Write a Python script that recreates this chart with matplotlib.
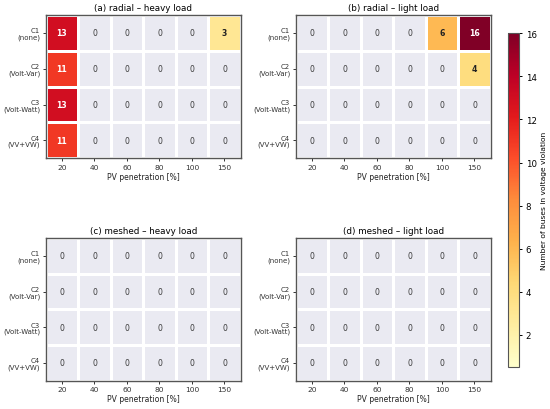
import numpy as np
import matplotlib
matplotlib.use("Agg")
import matplotlib.pyplot as plt
from matplotlib.colors import Normalize

pv_levels = ["20", "40", "60", "80", "100", "150"]
controls = ["C1\n(none)", "C2\n(Volt-Var)", "C3\n(Volt-Watt)", "C4\n(VV+VW)"]
titles = ["(a) radial – heavy load", "(b) radial – light load",
          "(c) meshed – heavy load", "(d) meshed – light load"]

radial_heavy = [[13, 0, 0, 0, 0, 3],
                [11, 0, 0, 0, 0, 0],
                [13, 0, 0, 0, 0, 0],
                [11, 0, 0, 0, 0, 0]]
radial_light = [[0, 0, 0, 0, 6, 16],
                [0, 0, 0, 0, 0, 4],
                [0, 0, 0, 0, 0, 0],
                [0, 0, 0, 0, 0, 0]]
meshed_heavy = [[0, 0, 0, 0, 0, 0],
                [0, 0, 0, 0, 0, 0],
                [0, 0, 0, 0, 0, 0],
                [0, 0, 0, 0, 0, 0]]
meshed_light = [[0, 0, 0, 0, 0, 0],
                [0, 0, 0, 0, 0, 0],
                [0, 0, 0, 0, 0, 0],
                [0, 0, 0, 0, 0, 0]]
panels = [radial_heavy, radial_light, meshed_heavy, meshed_light]

cbar_label = "Number of buses in voltage violation"
cbar_ticks = [2, 4, 6, 8, 10, 12, 14, 16]
vmin, vmax = 0.5, 16

plt.rcParams['font.family'] = ['DejaVu Sans']
fig = plt.figure(figsize=(5.5, 4.1), dpi=100)
W, H = 550, 410
boxes = [(45.7, 16, 240.7, 159.3), (295.7, 16, 490.7, 159.3),
         (45.7, 239, 240.7, 381.7), (295.7, 239, 490.7, 381.7)]
cmap = plt.get_cmap("YlOrRd")
norm = Normalize(vmin=vmin, vmax=vmax)
mesh = None
for data, title, (l, t, r, b) in zip(panels, titles, boxes):
    ax = fig.add_axes([l / W, 1 - b / H, (r - l) / W, (b - t) / H])
    arr = np.array(data, dtype=float)
    masked = np.ma.masked_where(arr == 0, arr)
    ax.set_facecolor("#eaeaf2")
    mesh = ax.pcolormesh(np.arange(len(pv_levels) + 1), np.arange(len(controls) + 1),
                         masked, cmap=cmap, norm=norm, edgecolors="white", linewidth=1.0)
    for x in range(1, len(pv_levels)):
        ax.axvline(x, color="white", lw=1.0, zorder=0.5)
    for y in range(1, len(controls)):
        ax.axhline(y, color="white", lw=1.0, zorder=0.5)
    ax.set_xlim(0, len(pv_levels))
    ax.set_ylim(len(controls), 0)
    for i in range(arr.shape[0]):
        for j in range(arr.shape[1]):
            v = arr[i, j]
            if v == 0:
                ax.text(j + 0.5, i + 0.5, "0", ha="center", va="center",
                        fontsize=5.6, color="#3a3a3a")
            else:
                col = "white" if norm(v) > 0.5 else "#222222"
                ax.text(j + 0.5, i + 0.5, f"{int(v)}", ha="center", va="center",
                        fontsize=5.6, color=col, fontweight="bold")
    ax.set_xticks(np.arange(len(pv_levels)) + 0.5)
    ax.set_xticklabels(pv_levels, fontsize=5.4)
    ax.set_yticks(np.arange(len(controls)) + 0.5)
    ax.set_yticklabels(controls, fontsize=5.0, linespacing=1.0)
    ax.tick_params(length=2.5, width=0.7, pad=1.5, colors="#333333")
    ax.set_xlabel("PV penetration [%]", fontsize=5.5, labelpad=1.5, color="#222222")
    ax.set_title(title, fontsize=6.3, pad=3.5)
    for s in ax.spines.values():
        s.set_color("#555555")
        s.set_linewidth(1.0)

cax = fig.add_axes([508.3 / W, 1 - 368.3 / H, 11.0 / W, (368.3 - 34.3) / H])
cb = fig.colorbar(mesh, cax=cax)
cb.set_ticks(cbar_ticks)
cb.ax.tick_params(labelsize=6.2, length=2.5, width=0.7, pad=2)
cb.set_label(cbar_label, fontsize=5.4, labelpad=3)
cb.outline.set_edgecolor("#555555")

fig.savefig("out.png", dpi=100)
